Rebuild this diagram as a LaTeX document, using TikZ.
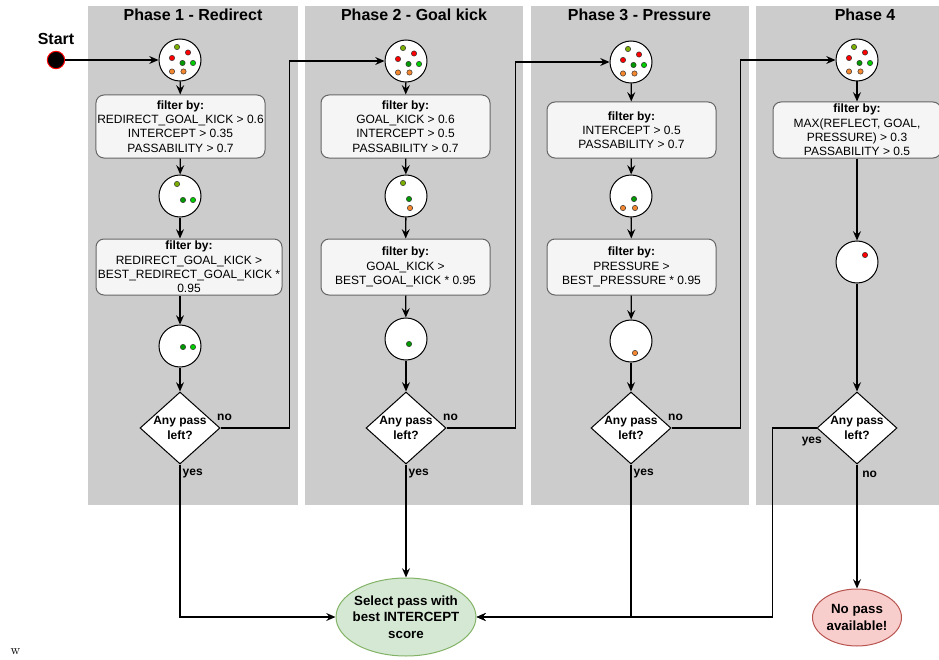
\documentclass[tikz,border=0pt]{standalone}
\usepackage{fontspec}
\setsansfont{Liberation Sans}
\usepackage{tikz}
\usetikzlibrary{positioning,shapes.geometric,arrows.meta,calc}
\definecolor{lanegray}{HTML}{CCCCCC}
\definecolor{boxfill}{HTML}{F5F5F5}
\definecolor{boxline}{HTML}{666666}
\definecolor{okfill}{HTML}{D5E8D4}
\definecolor{okline}{HTML}{82B366}
\definecolor{badfill}{HTML}{F8CECC}
\definecolor{badline}{HTML}{B85450}
\definecolor{dotolive}{HTML}{7AAE00}
\definecolor{dotred}{HTML}{FF0000}
\definecolor{dotdark}{HTML}{009A00}
\definecolor{dotlight}{HTML}{00CC00}
\definecolor{dotorange}{HTML}{F5872F}
\tikzset{
    lane/.style={rectangle, fill=lanegray, minimum height=374.25pt, inner sep=0pt},
    lanetitle/.style={font=\sffamily\bfseries\fontsize{12}{14}\selectfont},
    pool/.style={circle, draw, fill=white, minimum size=31.5pt, inner sep=0pt, line width=0.75pt},
    filterbox/.style={rectangle, draw=boxline, fill=boxfill, rounded corners=6pt, minimum width=126.75pt, inner xsep=1pt, inner ysep=0pt, align=center, font=\sffamily\fontsize{9}{10.7}\selectfont, line width=0.75pt},
    ask/.style={diamond, draw, fill=white, minimum width=60pt, minimum height=54pt, inner sep=0pt, line width=0.75pt},
    asktext/.style={align=center, font=\sffamily\bfseries\fontsize{9}{10.7}\selectfont},
    endball/.style={ellipse, draw, inner sep=0pt, line width=0.75pt},
    endtext/.style={align=center, font=\sffamily\bfseries\fontsize{10}{12.5}\selectfont},
    yesno/.style={font=\sffamily\bfseries\fontsize{9}{10.7}\selectfont, inner sep=0pt},
    arrow/.style={-{Stealth[length=7pt, width=6pt, inset=2.5pt]}, line width=1pt},
    ball/.style={fill=#1, draw=black!80, line width=0.4pt}
}
\newcommand{\balls}[2]{%
  \foreach \dx/\dy/\col in {#2} {\path[ball=\col] ($(#1)+(\dx,\dy)$) circle[radius=2pt];}}

\begin{document}
\begin{tikzpicture}[x=0.75pt, y=-0.75pt]
\useasboundingbox (0,0) rectangle (939,660);

% lanes
\node[lane, minimum width=157.5pt] (lane1) at (193,255.5) {};
\node[lane, minimum width=163.5pt] (lane2) at (414,255.5) {};
\node[lane, minimum width=163.5pt] (lane3) at (639.5,255.5) {};
\node[lane, minimum width=163.5pt] (lane4) at (865,255.5) {};
\node[lanetitle] (title1) at (193,14.5) {Phase 1 - Redirect};
\node[lanetitle] (title2) at (414,14.5) {Phase 2 - Goal kick};
\node[lanetitle] (title3) at (639.5,14.5) {Phase 3 - Pressure};
\node[lanetitle] (title4) at (865,14.5) {Phase 4};

\node[circle, fill=black, draw=red, line width=0.75pt, minimum size=13pt, inner sep=0pt] (start) at (56,60) {};
\node[lanetitle, above=1pt of start] (starttxt) {Start};

% phase 1
\node[pool] (pool1a) at (180,60) {};
\node[filterbox, minimum height=47.25pt] (filt1a) at (180.5,126.5) {{\bfseries filter by:}\\REDIRECT\_GOAL\_KICK > 0.6\\INTERCEPT > 0.35\\PASSABILITY > 0.7};
\node[pool] (pool1b) at (180,196) {};
\node[filterbox, minimum width=139.5pt, minimum height=42pt] (filt1b) at (189,267) {{\bfseries filter by:}\\REDIRECT\_GOAL\_KICK >\\BEST\_REDIRECT\_GOAL\_KICK *\\0.95};
\node[pool] (pool1c) at (180,346) {};
\node[ask, label={[asktext]center:{Any pass\\left?}}] (ask1) at (180,428) {};

% phase 2
\node[pool] (pool2a) at (406,61) {};
\node[filterbox, minimum height=47.25pt] (filt2a) at (405.5,126.5) {{\bfseries filter by:}\\GOAL\_KICK > 0.6\\INTERCEPT > 0.5\\PASSABILITY > 0.7};
\node[pool] (pool2b) at (406,196) {};
\node[filterbox, minimum height=42pt] (filt2b) at (405.5,267) {{\bfseries filter by:}\\GOAL\_KICK >\\BEST\_GOAL\_KICK * 0.95};
\node[pool] (pool2c) at (406,339) {};
\node[ask, label={[asktext]center:{Any pass\\left?}}] (ask2) at (406,428) {};

% phase 3
\node[pool] (pool3a) at (631,62) {};
\node[filterbox, minimum height=42pt] (filt3a) at (631.5,130) {{\bfseries filter by:}\\INTERCEPT > 0.5\\PASSABILITY > 0.7};
\node[pool] (pool3b) at (631,196) {};
\node[filterbox, minimum height=42pt] (filt3b) at (631.5,267) {{\bfseries filter by:}\\PRESSURE >\\BEST\_PRESSURE * 0.95};
\node[pool] (pool3c) at (631,341) {};
\node[ask, label={[asktext]center:{Any pass\\left?}}] (ask3) at (631,428) {};

% phase 4
\node[pool] (pool4a) at (857,60) {};
\node[filterbox, minimum width=126pt, minimum height=42pt] (filt4a) at (857,130) {{\bfseries filter by:}\\MAX(REFLECT, GOAL,\\PRESSURE) > 0.3\\PASSABILITY > 0.5};
\node[pool] (pool4b) at (857,262) {};
\node[ask, label={[asktext]center:{Any pass\\left?}}] (ask4) at (857,428) {};

% results
\node[endball, fill=okfill, draw=okline, minimum width=105pt, minimum height=58.5pt, label={[endtext]center:{Select pass with\\best INTERCEPT\\score}}] (select) at (406,617) {};
\node[endball, fill=badfill, draw=badline, minimum width=66.75pt, minimum height=42.75pt, label={[endtext]center:{No pass\\available!}}] (nopass) at (857,617.5) {};
\node (stray) at (15.5,652) {w};

% passes left in each pool
\foreach \p in {pool1a,pool2a,pool3a,pool4a}
  \balls{\p}{-3/-13/dotolive, 8/-7.5/dotred, -8/-2/dotred, 2.5/3/dotdark, 13/3/dotlight, -8/11.5/dotorange, 3.5/11.5/dotorange};
\balls{pool1b}{-3/-12/dotolive, 3/4/dotdark, 13/4/dotlight}
\balls{pool1c}{3/1/dotdark, 13/1/dotlight}
\balls{pool2b}{-3/-13/dotolive, 3/3/dotdark, 4/12/dotorange}
\balls{pool2c}{3/5/dotdark}
\balls{pool3b}{3/3/dotdark, -8/12/dotorange, 4/12/dotorange}
\balls{pool3c}{4/12/dotorange}
\balls{pool4b}{8/-7/dotred}

% flow
\draw[arrow] (start) -- (pool1a);
\draw[arrow] (pool1a) -- (filt1a);
\draw[arrow] (filt1a) -- (pool1b);
\draw[arrow] (pool1b.south) -- (pool1b.south |- filt1b.north);
\draw[arrow] (filt1b.south -| pool1c) -- (pool1c);
\draw[arrow] (pool1c) -- (ask1);
\draw[arrow] (ask1.east) -- node[pos=0, anchor=south west, yesno, xshift=-3pt, yshift=5pt] (no1) {no} ++(69,0) |- (pool2a.west);

\draw[arrow] (pool2a) -- (filt2a);
\draw[arrow] (filt2a) -- (pool2b);
\draw[arrow] (pool2b) -- (filt2b);
\draw[arrow] (filt2b) -- (pool2c);
\draw[arrow] (pool2c) -- (ask2);
\draw[arrow] (ask2.east) -- node[pos=0, anchor=south west, yesno, xshift=-3pt, yshift=5pt] (no2) {no} ++(69,0) |- (pool3a.west);

\draw[arrow] (pool3a) -- (filt3a);
\draw[arrow] (filt3a) -- (pool3b);
\draw[arrow] (pool3b) -- (filt3b);
\draw[arrow] (filt3b) -- (pool3c);
\draw[arrow] (pool3c) -- (ask3);
\draw[arrow] (ask3.east) -- node[pos=0, anchor=south west, yesno, xshift=-3pt, yshift=5pt] (no3) {no} ++(69,0) |- (pool4a.west);

\draw[arrow] (pool4a) -- (filt4a);
\draw[arrow] (filt4a) -- (pool4b);
\draw[arrow] (pool4b) -- (ask4);

\draw[arrow] (ask1.south) |- node[pos=0, anchor=north west, yesno, xshift=1.5pt, yshift=-3pt] (yes1) {yes} (select.west);
\draw[arrow] (ask2.south) -- node[pos=0, anchor=north west, yesno, xshift=1.5pt, yshift=-3pt] (yes2) {yes} (select.north);
\draw[arrow] (ask3.south) |- node[pos=0, anchor=north west, yesno, xshift=1.5pt, yshift=-3pt] (yes3) {yes} (select.east);
\draw[arrow] (ask4.west) -- node[pos=0, anchor=north east, yesno, xshift=4.5pt, yshift=-6.5pt] (yes4) {yes} ++(-44,0) |- (select.east);
\draw[arrow] (ask4.south) -- node[pos=0, anchor=north west, yesno, xshift=3.5pt, yshift=-4.5pt] (no4) {no} (nopass.north);

\end{tikzpicture}
\end{document}
